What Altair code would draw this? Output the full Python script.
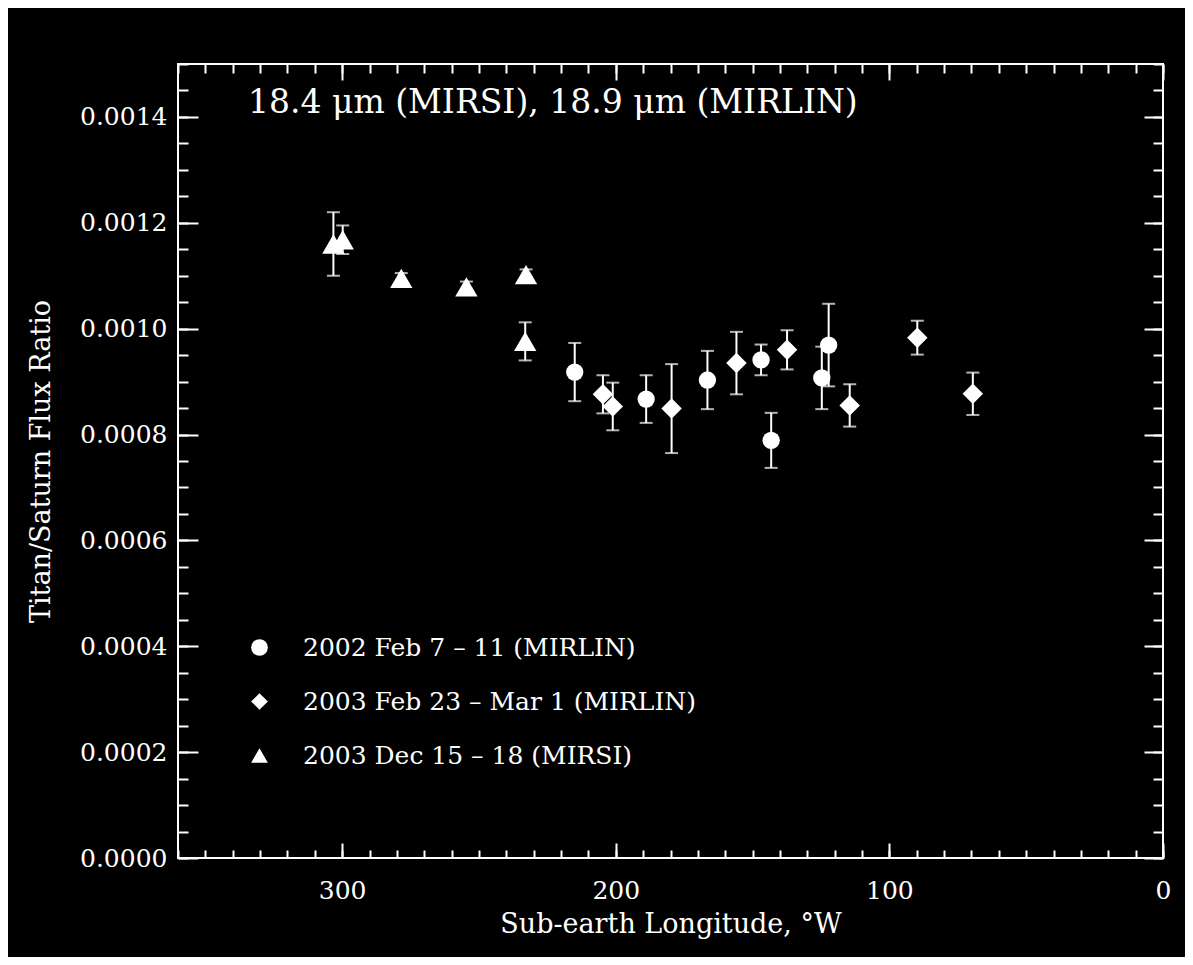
import altair as alt
import pandas as pd

# ---- data ----
series_names = [
    "2002 Feb 7 – 11 (MIRLIN)",
    "2003 Feb 23 – Mar 1 (MIRLIN)",
    "2003 Dec 15 – 18 (MIRSI)",
]

lon_2002 = [215.0, 188.9, 166.5, 146.9, 143.2, 124.7, 122.2]
ratio_2002 = [0.000918, 0.000867, 0.000903, 0.000941, 0.000789, 0.000907, 0.000969]
err_2002 = [0.000055, 0.000045, 0.000055, 0.000029, 0.000052, 0.000059, 0.000078]

lon_2003feb = [204.7, 201.1, 179.6, 155.9, 137.4, 114.5, 89.8, 69.5]
ratio_2003feb = [0.000876, 0.000853, 0.000849, 0.000935, 0.000960, 0.000855, 0.000983, 0.000877]
err_2003feb = [0.000036, 0.000045, 0.000084, 0.000059, 0.000037, 0.000040, 0.000032, 0.000040]

lon_2003dec = [303.2, 299.8, 278.4, 254.6, 232.8, 233.1]
ratio_2003dec = [0.001160, 0.001168, 0.001095, 0.001079, 0.001102, 0.000976]
err_2003dec = [0.000060, 0.000027, 0.000010, 0.000010, 0.000010, 0.000036]

x_major = [0, 100, 200, 300]
x_minor = list(range(0, 361, 10))
y_major = [0.0, 0.0002, 0.0004, 0.0006, 0.0008, 0.0010, 0.0012, 0.0014]
y_minor = [round(i * 0.00005, 6) for i in range(31)]

rows = []
for name, lons, rats, errs in [
    (series_names[0], lon_2002, ratio_2002, err_2002),
    (series_names[1], lon_2003feb, ratio_2003feb, err_2003feb),
    (series_names[2], lon_2003dec, ratio_2003dec, err_2003dec),
]:
    for lo_, r, e in zip(lons, rats, errs):
        rows.append({"series": name, "lon": lo_, "ratio": r,
                     "lo": r - e, "hi": r + e})
df = pd.DataFrame(rows)

W, H = 985, 794
FONT = "DejaVu Serif"
xs = alt.Scale(domain=[0, 360], reverse=True, nice=False, zero=False)
ys = alt.Scale(domain=[0, 0.0015], nice=False, zero=False)
shape_scale = alt.Scale(domain=series_names, range=["circle", "diamond", "triangle-up"])
marker_sizes = [300, 420, 500]


def tick_axis(orient, offset, values, size):
    return alt.Axis(orient=orient, offset=offset, values=values, labels=False,
                    domain=False, grid=False, title=None, ticks=True,
                    tickSize=size, tickWidth=2, tickColor="white")


base = alt.Chart(df)

legend = alt.Legend(
    orient="none", legendX=69, legendY=571, title=None, padding=0,
    labelFont=FONT, labelFontSize=25, labelColor="white", labelLimit=800,
    labelOffset=31, symbolSize=280, symbolFillColor="white",
    symbolStrokeColor="white", symbolType="circle", rowPadding=28)

points = base.transform_filter(alt.datum.series == series_names[0]).mark_point(
    filled=True, color="white", opacity=1, size=marker_sizes[0]).encode(
    x=alt.X("lon:Q", scale=xs, axis=alt.Axis(
        orient="bottom", values=x_major, ticks=False, domain=False, grid=False,
        labelFlush=False, labelPadding=20, labelFont=FONT, labelFontSize=25,
        labelColor="white", title="Sub-earth Longitude, °W", titleFont=FONT,
        titleFontSize=27, titleFontWeight="normal", titleColor="white",
        titlePadding=8)),
    y=alt.Y("ratio:Q", scale=ys, axis=alt.Axis(
        orient="left", values=y_major, format=".4f", ticks=False, domain=False,
        grid=False, labelPadding=11, labelFont=FONT, labelFontSize=25,
        labelColor="white", title="Titan/Saturn Flux Ratio", titleFont=FONT,
        titleFontSize=27, titleFontWeight="normal", titleColor="white",
        titlePadding=24)),
    shape=alt.Shape("series:N", scale=shape_scale, legend=legend),
)


def more_points(i):
    return base.transform_filter(alt.datum.series == series_names[i]).mark_point(
        filled=True, color="white", opacity=1, size=marker_sizes[i]).encode(
        x=alt.X("lon:Q", scale=xs, axis=None),
        y=alt.Y("ratio:Q", scale=ys, axis=None),
        shape=alt.Shape("series:N", scale=shape_scale, legend=legend),
    )


rules = base.mark_rule(color="white", strokeWidth=2).encode(
    x=alt.X("lon:Q", scale=xs, axis=tick_axis("top", -H, x_major, 15)),
    y=alt.Y("lo:Q", scale=ys, axis=tick_axis("right", -W, y_major, 20)),
    y2="hi:Q",
)

caps = base.transform_fold(["lo", "hi"], as_=["end", "val"]).mark_tick(
    color="white", orient="horizontal", size=13, thickness=2).encode(
    x=alt.X("lon:Q", scale=xs, axis=tick_axis("top", -H, x_minor, 8)),
    y=alt.Y("val:Q", scale=ys, axis=tick_axis("right", -W, y_minor, 10)),
)

ghost1 = base.mark_point(opacity=0).encode(
    x=alt.X("lon:Q", scale=xs, axis=tick_axis("bottom", -H, x_major, 16)),
    y=alt.Y("ratio:Q", scale=ys, axis=tick_axis("left", -W, y_major, 19)),
)

ghost2 = base.mark_point(opacity=0).encode(
    x=alt.X("lon:Q", scale=xs, axis=tick_axis("bottom", -H, x_minor, 9)),
    y=alt.Y("ratio:Q", scale=ys, axis=tick_axis("left", -W, y_minor, 10)),
)

chart = alt.layer(ghost1, ghost2, rules, caps, points, more_points(1), more_points(2)).resolve_axis(
    x="independent", y="independent"
).properties(
    width=W, height=H,
    autosize=alt.AutoSizeParams(type="none"),
    padding={"left": 170, "top": 56, "right": 22, "bottom": 99},
    background="black",
    title=alt.TitleParams(
        text="18.4 μm (MIRSI), 18.9 μm (MIRLIN)", anchor="start", frame="group",
        font=FONT, fontSize=33, fontWeight="normal", color="white",
        dx=70, dy=57, offset=0),
).configure_view(stroke="white", strokeWidth=2)

chart.save("out.html", embed_options={"renderer": "svg", "actions": False})
